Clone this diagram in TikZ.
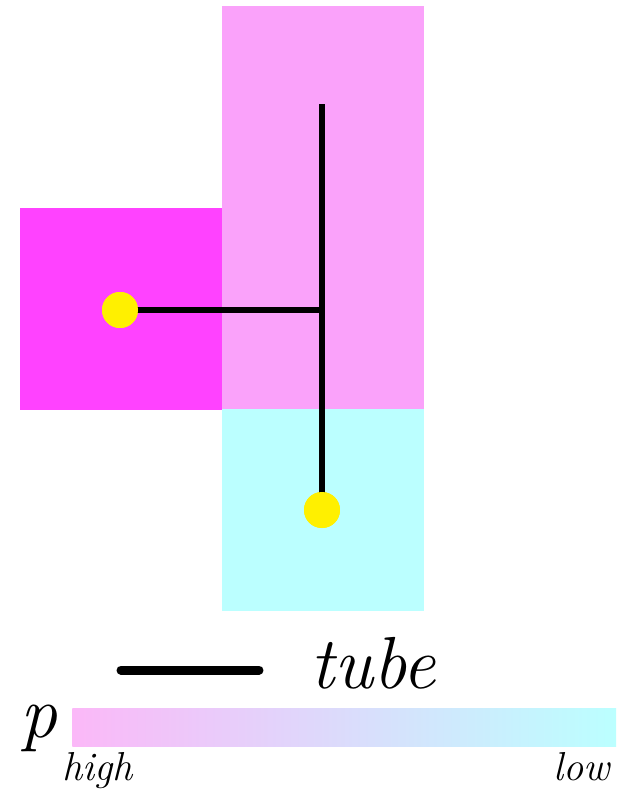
\documentclass[tikz,border=0pt]{standalone}
\usepackage{fontspec}
\usetikzlibrary{positioning}
\definecolor{hipink}{RGB}{250,162,250}
\definecolor{hot}{RGB}{255,66,255}
\definecolor{lowcyan}{RGB}{187,255,255}
\definecolor{barpink}{RGB}{251,184,248}
\definecolor{dotyellow}{RGB}{255,240,0}
\tikzset{
  zone/.style={draw=none, inner sep=0pt, minimum width=4.04cm, minimum height=4.04cm},
  pipe/.style={line width=1.2mm},
  tube/.style={line width=1.8mm, line cap=round},
  pump/.style={circle, fill=dotyellow, inner sep=0pt, minimum size=0.72cm},
  lbl/.style={inner sep=0pt, anchor=base west},
}

\begin{document}
\begin{tikzpicture}[x=0.02cm, y=-0.02cm]
    \useasboundingbox[fill=white] (0,0) rectangle (626,796);
    % pressure zones
    \node[zone, fill=hipink, minimum height=8.08cm] (upper) at (323,208) {};
    \node[zone, fill=hot] (left) at (121,309) {};
    \node[zone, fill=lowcyan] (lower) at (323,510) {};
    % tubes
    \node[pump] (src) at (120,310) {};
    \node[pump] (snk) at (322,510) {};
    \coordinate (top) at (322,104);
    \coordinate (tee) at (322,310);
    \draw[pipe] (top) -- (snk.center);
    \draw[pipe] (src.center) -- (tee);
    \node[pump] at (src) {};
    \node[pump] at (snk) {};
    % legend
    \coordinate (la) at (121,670);
    \coordinate (lb) at (259,670);
    \draw[tube] (la) -- (lb);
    \node[lbl] (tubelbl) at (310,688) {\fontsize{42}{44}\selectfont\itshape tube};
    \node[inner sep=0pt, minimum height=0.76cm, minimum width=10.88cm,
          left color=barpink, right color=lowcyan, anchor=west] (bar) at (72,727) {};
    \node[lbl] (plbl) at (20,737) {\fontsize{42}{44}\selectfont\itshape p};
    \node[lbl] (hi) at (62,780) {\fontsize{23}{25}\selectfont\itshape high};
    \node[lbl, anchor=base east] (lo) at (610,780) {\fontsize{23}{25}\selectfont\itshape low};
\end{tikzpicture}
\end{document}
